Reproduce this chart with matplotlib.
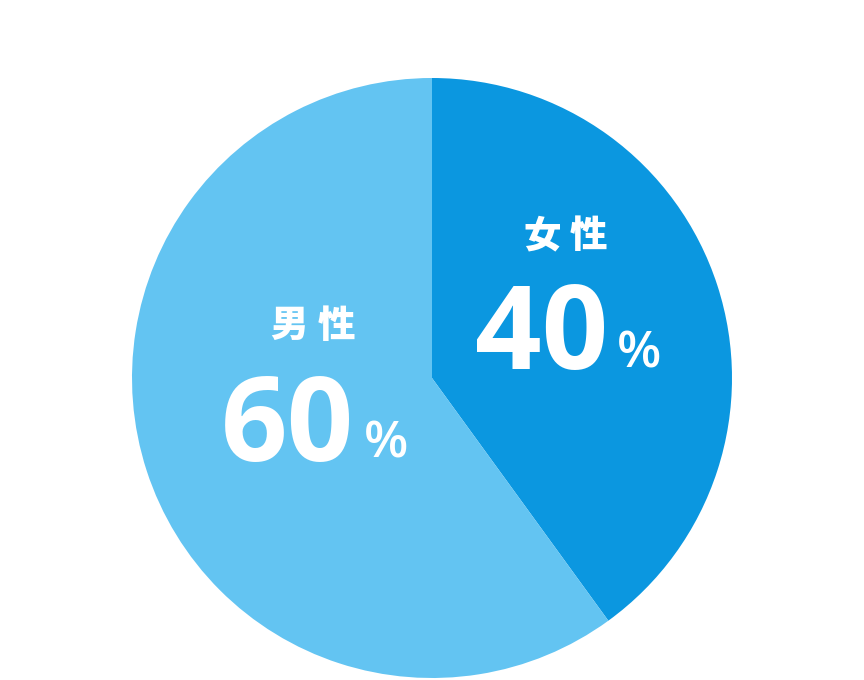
import matplotlib
matplotlib.use("Agg")
import matplotlib.pyplot as plt

labels = ["女性", "男性"]
values = [40, 60]
colors = ["#0B97E0", "#63C4F2"]

W, H = 864, 680
fig = plt.figure(figsize=(W / 100, H / 100), dpi=100)
ax = fig.add_axes([0, 0, 1, 1])

cx, cy, r = 432, H - 378, 300
ax.pie(values, colors=colors, startangle=90, counterclock=False,
       center=(cx, cy), radius=r, frame=True,
       wedgeprops=dict(linewidth=0))
ax.set_xlim(0, W)
ax.set_ylim(0, H)
ax.set_aspect("equal")
ax.axis("off")

cjk = dict(family=["Noto Sans CJK JP", "DejaVu Sans"], weight="heavy", color="white", fontsize=27)
num = dict(family=["Open Sans", "DejaVu Sans"], weight="bold", color="white")
pct = dict(family=["Open Sans", "DejaVu Sans"], weight="semibold", color="white")

# 女性 40%
for ch, x in zip(labels[0], [542, 588]):
    ax.text(x, H - 236, ch, ha="center", va="center", **cjk)
ax.text(542, H - 369, f"{values[0]}", ha="center", va="baseline", fontsize=84, **num)
ax.text(617, H - 367, "%", ha="left", va="baseline", fontsize=37, **pct)

# 男性 60%
for ch, x in zip(labels[1], [289, 336]):
    ax.text(x, H - 326, ch, ha="center", va="center", **cjk)
ax.text(287, H - 461, f"{values[1]}", ha="center", va="baseline", fontsize=84, **num)
ax.text(364, H - 457, "%", ha="left", va="baseline", fontsize=37, **pct)

fig.savefig("out.png", dpi=100, facecolor="white")
